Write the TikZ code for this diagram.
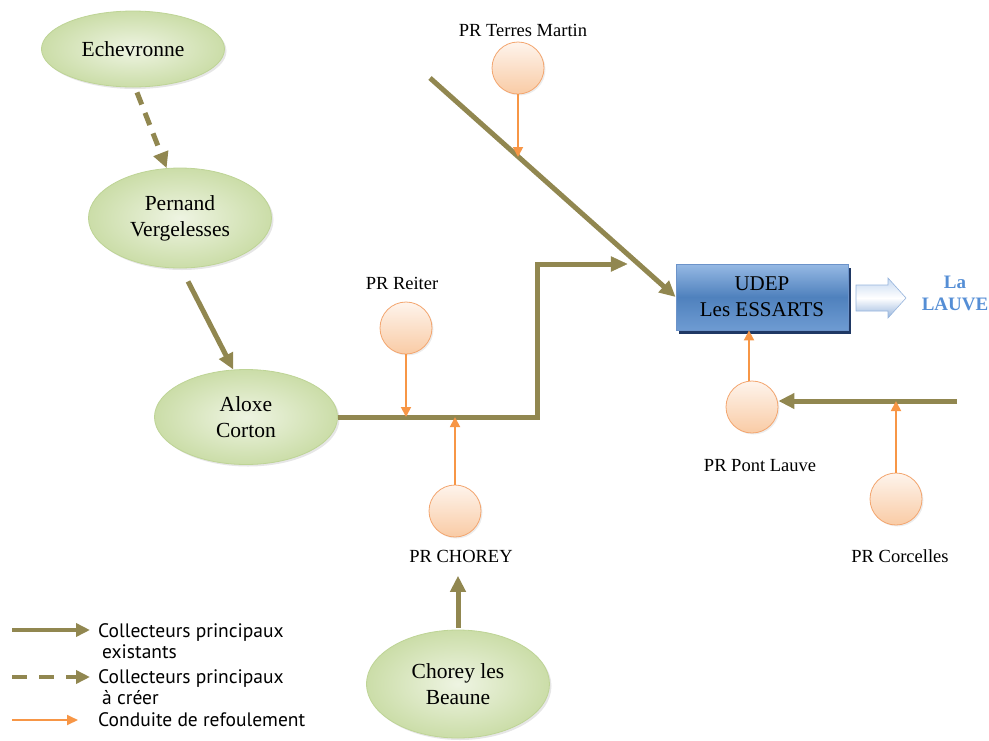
\documentclass[tikz,border=0pt]{standalone}
\usepackage{fontspec}
\setmainfont{Liberation Serif}
\newfontfamily\legfont{PT Sans}
\usetikzlibrary{shapes.geometric,arrows.meta,shadows,calc}
\definecolor{colOlive}{RGB}{145,135,80}
\definecolor{colOrange}{RGB}{247,150,70}
\definecolor{grnBorder}{RGB}{190,212,150}
\definecolor{grnIn}{RGB}{238,244,226}
\definecolor{grnOut}{RGB}{203,221,168}
\definecolor{pchTop}{RGB}{254,244,236}
\definecolor{pchBot}{RGB}{249,203,165}
\definecolor{pchBorder}{RGB}{243,165,110}
\definecolor{bluTop}{RGB}{150,185,228}
\definecolor{bluMid}{RGB}{79,129,189}
\definecolor{bluBot}{RGB}{110,155,210}
\definecolor{bluShadow}{RGB}{31,56,100}
\definecolor{bluBorder}{RGB}{108,147,201}
\definecolor{lauve}{RGB}{85,142,213}
\definecolor{arrTop}{RGB}{198,217,241}
\definecolor{arrBot}{RGB}{150,180,220}
\begin{document}
\begin{tikzpicture}[x=1pt,y=-1pt,
  town/.style={ellipse, draw=grnBorder, line width=0.8pt, inner color=grnIn, outer color=grnOut,
    minimum width=183pt, align=center, inner sep=0pt,
    font=\fontsize{21.5}{26}\selectfont,
    drop shadow={opacity=0.2, shadow xshift=2pt, shadow yshift=-2pt}},
  pump/.style={circle, draw=pchBorder, line width=0.8pt, top color=pchTop, bottom color=pchBot,
    minimum size=52pt, inner sep=0pt,
    drop shadow={opacity=0.15, shadow xshift=1.5pt, shadow yshift=-1.5pt}},
  lab/.style={font=\fontsize{18.5}{22}\selectfont},
  mainline/.style={draw=colOlive, line width=5pt},
  mainarr/.style={mainline, -{Triangle[length=16pt,width=15pt]}},
  refarr/.style={draw=colOrange, line width=1.8pt, -{Triangle[length=10pt,width=10pt]}},
  leg/.style={font=\legfont\fontsize{19.5}{21}\selectfont, anchor=west, align=left, inner sep=0pt}
]
\useasboundingbox (0,0) rectangle (989,740);

% towns
\node[town, minimum height=76pt] (ech) at (133,49) {Echevronne};
\node[town, minimum height=100pt] (per) at (180,218) {Pernand\\Vergelesses};
\node[town, minimum height=95pt] (alo) at (246,417) {Aloxe\\Corton};
\node[town, minimum height=108pt] (chb) at (458,684) {Chorey les\\Beaune};

% UDEP
\fill[bluShadow] (679,268) rectangle (851,334);
\node[draw=bluBorder, line width=0.8pt, minimum width=172pt, minimum height=66pt,
  top color=bluTop, bottom color=bluBot, middle color=bluMid, align=center,
  font=\fontsize{21}{26}\selectfont] (udep) at (762,297) {UDEP\\Les ESSARTS};

% outlet arrow
\path[draw=arrBot, line width=0.6pt, top color=arrTop, bottom color=arrBot, middle color=white]
  (856,285) -- (888,285) -- (888,278) -- (906,298) -- (888,318) -- (888,311) -- (856,311) -- cycle;
\node[font=\bfseries\fontsize{19}{22}\selectfont, text=lauve, align=center] (lauve) at (955,293) {La\\LAUVE};

% pumps
\node[pump] (tm) at (518,68) {};
\node[lab] (tmlab) at (523,30) {PR Terres Martin};
\node[pump] (rei) at (406,328) {};
\node[lab] (reilab) at (402,283) {PR Reiter};
\node[pump] (cho) at (455,511) {};
\node[lab] (cholab) at (461,556) {PR CHOREY};
\node[pump] (pl) at (752,407) {};
\node[lab] (pllab) at (760,466) {PR Pont Lauve};
\node[pump] (cor) at (896,499) {};
\node[lab] (corlab) at (900,556) {PR Corcelles};

% main collectors
\draw[mainline, dashed, dash pattern=on 13pt off 9pt, -{Triangle[length=16pt,width=15pt]}]
  ([xshift=4pt,yshift=-5pt]ech.south) -- (per.105);
\draw[mainarr] ([xshift=8pt,yshift=-13pt]per.south) -- (alo.105);
\coordinate (j1) at (627,264);
\coordinate (corner1) at (537,417);
\coordinate (corner2) at (537,264);
\draw[mainline, line join=miter] (alo.east) -- (corner1) -- (corner2) -- ([xshift=-14pt]j1);
\draw[draw=colOlive, fill=colOlive] (j1) -- ++(-16,-7.5) -- ++(0,15) -- cycle;
\coordinate (tmstart) at (430,78);
\draw[mainarr] (tmstart) -- (udep.west);
\coordinate (plstart) at (957,401);
\draw[mainarr] (plstart) -- (plstart -| pl.east);
\draw[mainarr] ([yshift=2pt]chb.north) -- ([yshift=-10pt]cholab.south -| chb.north);

% refoulement
\coordinate (tmj) at (518,157);
\draw[refarr] (tm.south) -- (tmj);
\draw[refarr] (rei.south) -- (rei.south |- alo.east);
\draw[refarr] (cho.north) -- (cho.north |- alo.east);
\draw[refarr] ([xshift=-3pt]pl.north) -- ([xshift=-3pt]pl.north |- udep.south);
\draw[refarr] (cor.north) -- (cor.north |- plstart);

% legend
\coordinate (l1a) at (12,630); \coordinate (l1b) at (90,630);
\coordinate (l2a) at (12,677); \coordinate (l2b) at (90,677);
\coordinate (l3a) at (12,720); \coordinate (l3b) at (78,720);
\draw[mainline, line width=4pt, -{Triangle[length=14pt,width=13pt]}] (l1a) -- (l1b);
\draw[mainline, line width=4pt, dash pattern=on 15pt off 12pt, -{Triangle[length=14pt,width=13pt]}] (l2a) -- (l2b);
\draw[draw=colOrange, line width=1.8pt, -{Triangle[length=11pt,width=10pt]}] (l3a) -- (l3b);
\node[leg] (t1) at (98,641) {Collecteurs principaux\\\hspace{4pt}existants};
\node[leg] (t2) at (98,687) {Collecteurs principaux\\\hspace{4pt}à créer};
\node[leg] (t3) at (98,720) {Conduite de refoulement};
\end{tikzpicture}
\end{document}
